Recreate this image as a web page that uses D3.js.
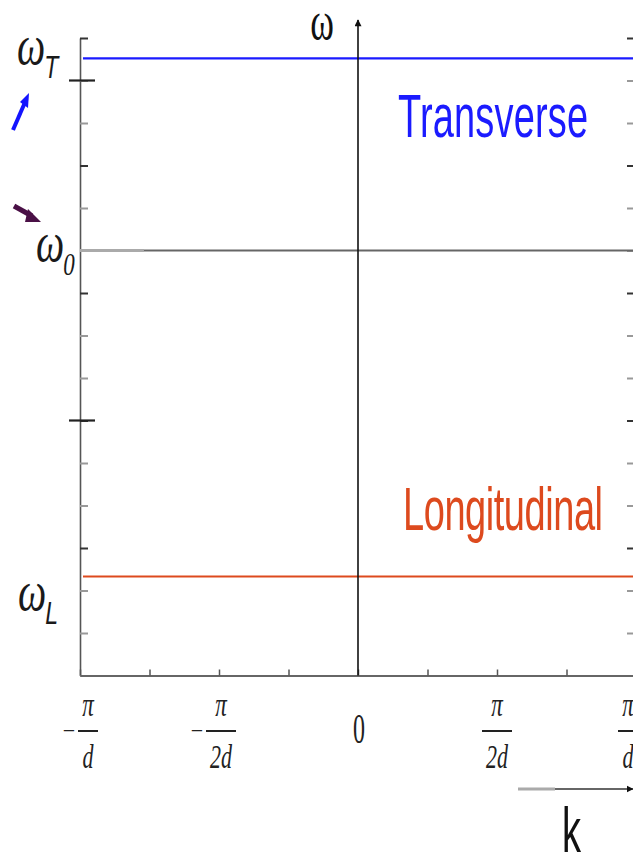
<!DOCTYPE html>
<meta charset="utf-8">
<title>Dispersion ω(k)</title>
<style>
  body { margin: 0; background: #fff; }
  text.branch { font-family: "Liberation Sans", Arial, sans-serif; font-size: 38px; }
  .sym { font-family: "Liberation Serif", "Times New Roman", serif; font-style: italic; }
  .sub { font-family: "Liberation Sans", Arial, sans-serif; font-style: italic; }
</style>
<script src="https://d3js.org/d3.v7.min.js"></script>
<div id="chart"></div>
<script>
// wave number in units of pi/d, frequency in arbitrary plot units
var kTicks = [-1, -0.75, -0.5, -0.25, 0, 0.25, 0.5, 0.75, 1];
var kLabels = [
  {k: -1,   sign: "−", num: "π", den: "d",  dx: 8},
  {k: -0.5, sign: "−", num: "π", den: "2d", dx: 2},
  {k: 0.5,  sign: "",  num: "π", den: "2d", dx: 0},
  {k: 1,    sign: "",  num: "π", den: "d",  dx: -8}
];
var omegaTicks = [0, 1, 2, 3, 4, 5, 6, 7, 8, 9, 10, 11, 12, 13, 14, 15];
var omegaMajor = [6, 14];
var omegaDark = [15, 12, 9, 6, 3];

var branchNames  = ["Transverse", "Longitudinal"];
var branchOmega  = [14.52, 2.33];
var branchColors = ["#1b1bff", "#dd4a1e"];
var branchTextK  = [0.144, 0.162];
var branchTextW  = [12.68, 3.42];
var omega0 = 10;

var symLabels = [
  {sym: "ω", sub: "T", w: 14.4, x: 17},
  {sym: "ω", sub: "0", w: 9.75, x: 36},
  {sym: "ω", sub: "L", w: 1.55, x: 18}
];

var W = 633, H = 859;
var svg = d3.select("#chart").append("svg")
    .attr("width", W).attr("height", H);

var x = d3.scaleLinear().domain([-1, 1]).range([80, 636]);
var y = d3.scaleLinear().domain([0, 15]).range([675.5, 38]);

var defs = svg.append("defs");
function marker(id, len, wid) {
  defs.append("marker").attr("id", id)
      .attr("viewBox", "0 0 10 10").attr("refX", 9).attr("refY", 5)
      .attr("markerWidth", len).attr("markerHeight", wid).attr("orient", "auto")
      .attr("markerUnits", "userSpaceOnUse")
    .append("path").attr("d", "M0,0L10,5L0,10z").attr("fill", "#111");
}
marker("head", 7, 9);
marker("headUp", 13, 7);

function tickColor(d) { return omegaDark.indexOf(d) >= 0 ? "#333" : "#999"; }

// left frame axis
var left = svg.append("g").attr("transform", "translate(" + x(-1) + ",0)")
    .call(d3.axisRight(y).tickValues(omegaTicks).tickSize(8).tickSizeOuter(0).tickFormat(""));
left.select(".domain").attr("stroke", "#555").attr("stroke-width", 1.6);
left.selectAll(".tick line").attr("stroke", tickColor).attr("stroke-width", 2);
left.selectAll(".major").data(omegaMajor).enter().append("line")
    .attr("x1", -11).attr("x2", 15)
    .attr("y1", function(d) { return y(d); }).attr("y2", function(d) { return y(d); })
    .attr("stroke", "#222").attr("stroke-width", 2.2);

// right frame ticks
var right = svg.append("g").attr("transform", "translate(" + x(1) + ",0)")
    .call(d3.axisLeft(y).tickValues(omegaTicks).tickSize(9).tickSizeOuter(0).tickFormat(""));
right.select(".domain").attr("stroke", "#555");
right.selectAll(".tick line").attr("stroke", tickColor).attr("stroke-width", 2);

// bottom frame
var bottom = svg.append("g").attr("transform", "translate(0," + y(0) + ")")
    .call(d3.axisTop(x).tickValues(kTicks).tickSize(6).tickSizeOuter(0).tickFormat(""));
bottom.select(".domain").attr("stroke", "#666").attr("stroke-width", 2);
bottom.selectAll(".tick line").attr("stroke", "#555").attr("stroke-width", 1.5);

// omega_0 reference line
svg.append("line")
    .attr("x1", x(-1)).attr("x2", x(1)).attr("y1", y(omega0)).attr("y2", y(omega0))
    .attr("stroke", "#666").attr("stroke-width", 1.8);
svg.append("line")
    .attr("x1", x(-1)).attr("x2", x(-0.77)).attr("y1", y(omega0)).attr("y2", y(omega0))
    .attr("stroke", "#aaa").attr("stroke-width", 3);

// flat branches
svg.selectAll(".branch-line").data(branchOmega).enter().append("line")
    .attr("x1", x(-1) + 3).attr("x2", x(1))
    .attr("y1", function(d) { return y(d); }).attr("y2", function(d) { return y(d); })
    .attr("stroke", function(d, i) { return branchColors[i]; })
    .attr("stroke-width", 2.2);

// omega axis at k = 0
svg.append("line")
    .attr("x1", x(0)).attr("x2", x(0)).attr("y1", y(0)).attr("y2", 20)
    .attr("stroke", "#111").attr("stroke-width", 1.6)
    .attr("marker-end", "url(#headUp)");
svg.append("text").attr("class", "sym")
    .attr("transform", "translate(322,39) scale(1,1.5)")
    .attr("text-anchor", "middle").style("font-style", "normal")
    .attr("font-size", 36).attr("fill", "#111").text("ω");

// branch names
svg.selectAll(".branch").data(branchNames).enter().append("text")
    .attr("class", "branch")
    .attr("transform", function(d, i) {
      return "translate(" + x(branchTextK[i]) + "," + y(branchTextW[i]) + ") scale(1,1.62)";
    })
    .attr("textLength", function(d, i) { return i == 0 ? 190 : 200; })
    .attr("fill", function(d, i) { return branchColors[i]; })
    .text(function(d) { return d; });

// omega_T, omega_0, omega_L labels (subscript as tspan)
var sl = svg.selectAll(".symlab").data(symLabels).enter().append("text")
    .attr("transform", function(d) { return "translate(" + d.x + "," + y(d.w) + ") scale(1,1.4)"; })
    .attr("fill", "#1a1a1a");
sl.append("tspan").attr("class", "sym").attr("font-size", 40)
    .text(function(d) { return d.sym; });
sl.append("tspan")
    .attr("class", function(d) { return d.sub == "0" ? "sym" : "sub"; })
    .attr("dx", -1).attr("dy", 10).attr("font-size", 23)
    .text(function(d) { return d.sub; });

// k tick labels
var kl = svg.selectAll(".klab").data(kLabels).enter().append("g")
    .attr("transform", function(d) { return "translate(" + (x(d.k) + d.dx) + ",0)"; });
kl.append("line")
    .attr("x1", function(d) { return d.den == "d" ? -10 : -15; })
    .attr("x2", function(d) { return d.den == "d" ? 10 : 15; })
    .attr("y1", 731).attr("y2", 731).attr("stroke", "#222").attr("stroke-width", 2);
kl.append("text").attr("class", "sym")
    .attr("transform", "translate(0,716) scale(1,1.5)")
    .attr("text-anchor", "middle").attr("font-size", 23).attr("fill", "#222")
    .text(function(d) { return d.num; });
kl.append("text").attr("class", "sym")
    .attr("transform", "translate(0,768) scale(1,1.5)")
    .attr("text-anchor", "middle").attr("font-size", 22).attr("fill", "#222")
    .text(function(d) { return d.den; });
kl.append("text").attr("class", "sym").style("font-style", "normal")
    .attr("transform", function(d) {
      return "translate(" + (d.den == "d" ? -19 : -24) + ",738)";
    })
    .attr("text-anchor", "middle").attr("font-size", 22).attr("fill", "#222")
    .text(function(d) { return d.sign; });
svg.append("text").attr("class", "sym").style("font-style", "normal")
    .attr("transform", "translate(" + (x(0) + 1) + ",743) scale(1,1.8)")
    .attr("text-anchor", "middle").attr("font-size", 24).attr("fill", "#222")
    .text("0");

// k arrow
svg.append("line").attr("x1", 518).attr("x2", 555).attr("y1", 789).attr("y2", 789)
    .attr("stroke", "#aaa").attr("stroke-width", 3);
svg.append("line").attr("x1", 555).attr("x2", 633).attr("y1", 789).attr("y2", 789)
    .attr("stroke", "#333").attr("stroke-width", 1.3).attr("marker-end", "url(#head)");
svg.append("text").attr("class", "branch")
    .attr("transform", "translate(562,852) scale(1,1.65)")
    .attr("font-size", 38).attr("fill", "#111").text("k");

// pieces of arrows cut by the left edge
svg.append("line").attr("x1", 13).attr("x2", 26).attr("y1", 130).attr("y2", 100)
    .attr("stroke", "#1414ff").attr("stroke-width", 4);
svg.append("path").attr("d", "M20,102L29,93L28,108z").attr("fill", "#1414ff");
svg.append("line").attr("x1", 14).attr("x2", 32).attr("y1", 206).attr("y2", 216)
    .attr("stroke", "#4a1046").attr("stroke-width", 5);
svg.append("path").attr("d", "M28,209L41,222L25,222z").attr("fill", "#4a1046");
</script>
